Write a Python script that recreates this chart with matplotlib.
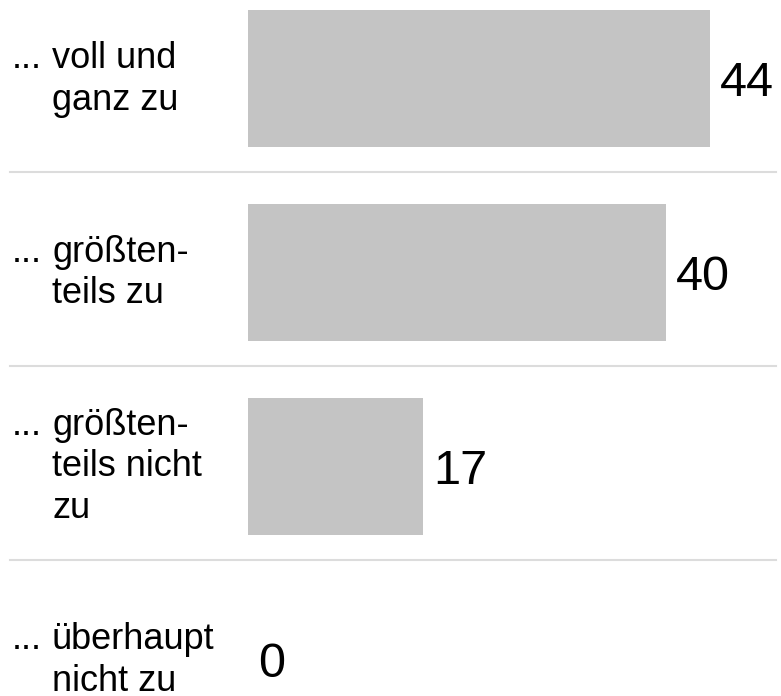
import matplotlib
matplotlib.use("Agg")
import matplotlib.pyplot as plt

# ---- data ----
categories = ["voll und\nganz zu",
              "größten-\nteils zu",
              "größten-\nteils nicht\nzu",
              "überhaupt\nnicht zu"]
values = [43.8, 39.6, 16.6, 0.0]
value_labels = ["44", "40", "17", "0"]

plt.rcParams['font.family'] = ['Liberation Sans', 'DejaVu Sans']

W, H, DPI = 781, 696, 100
fig = plt.figure(figsize=(W / DPI, H / DPI), dpi=DPI)
fig.patch.set_facecolor("white")

ax_left, ax_right = 248, 776
px_per_unit = 10.55
pitch = 193.8
first_center = 78.5

ax = fig.add_axes([ax_left / W, 0, (ax_right - ax_left) / W, 1])
ax.set_xlim(0, (ax_right - ax_left) / px_per_unit)
ax.set_ylim((H - first_center) / pitch, -first_center / pitch)
ax.axis("off")

ypos = list(range(len(categories)))
ax.barh(ypos, values, height=137 / pitch, color="#c4c4c4", linewidth=0)

# separators
for i in range(len(categories) - 1):
    ax.axhline(i + 0.483, xmin=(10 - ax_left) / (ax_right - ax_left), xmax=1,
               color="#dcdcdc", lw=1.5, clip_on=False)

# value labels
for i, (v, lab) in enumerate(zip(values, value_labels)):
    ax.annotate(lab, xy=(v, i), xytext=(10, 0), textcoords="offset pixels",
                ha="left", va="center_baseline", fontsize=35, color="black")

# category labels with hanging indent
L = 41.5
for i, cat in enumerate(categories):
    lines = cat.split("\n")
    n = len(lines)
    base0 = 31 - n * L / 2
    ax.annotate("...", xy=(12, i), xycoords=("figure pixels", "data"),
                xytext=(0, -base0), textcoords="offset pixels",
                ha="left", va="baseline", fontsize=26, color="black")
    for k, line in enumerate(lines):
        ax.annotate(line, xy=(52, i), xycoords=("figure pixels", "data"),
                    xytext=(0, -(base0 + k * L)), textcoords="offset pixels",
                    ha="left", va="baseline", fontsize=26, color="black")

fig.savefig("out.png", dpi=DPI, facecolor="white")
